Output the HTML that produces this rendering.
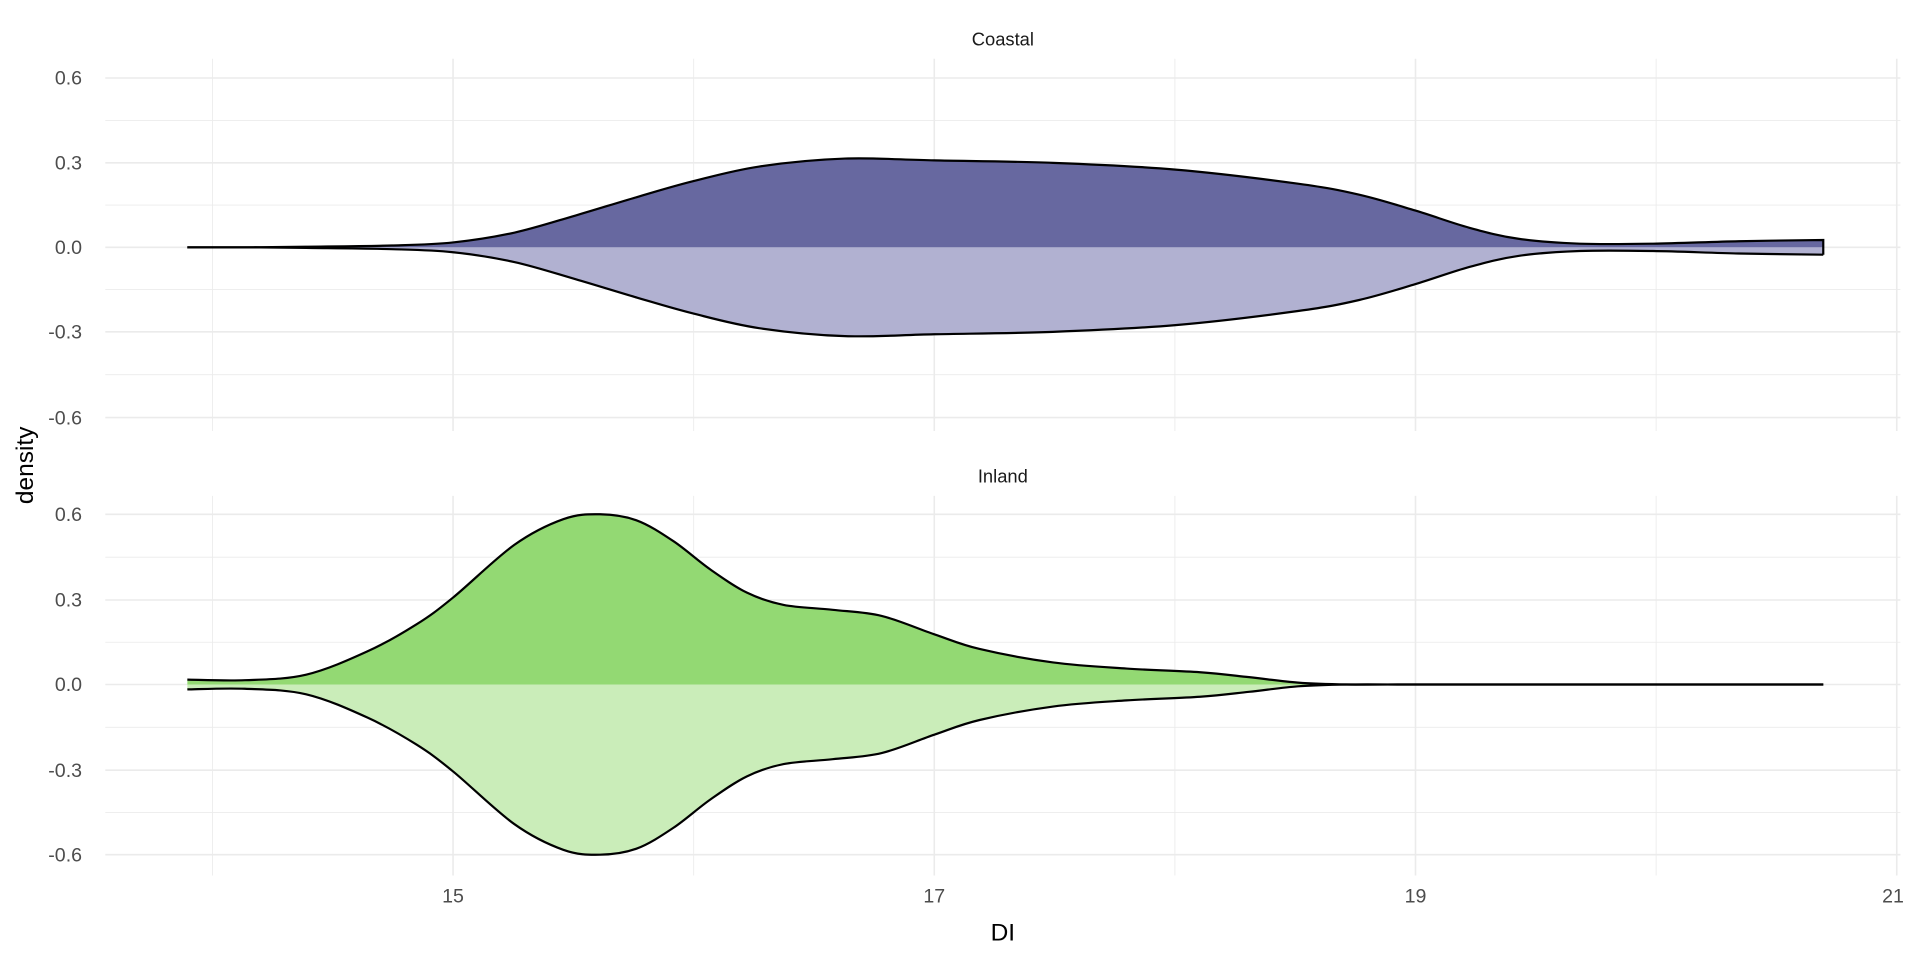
<!DOCTYPE html>
<html><head><meta charset="utf-8"><style>
html,body{margin:0;padding:0;background:#fff}
svg{display:block}
text{font-family:"Liberation Sans",Arial,sans-serif}
</style></head><body>
<svg id="s" width="1920" height="960" viewBox="0 0 1568 784" xmlns="http://www.w3.org/2000/svg">
<g id="grid"></g>
<g id="shapes"></g>
<g font-size="16" fill="#4d4d4d" text-anchor="end">
<text x="67" y="69">0.6</text><text x="67" y="138.5">0.3</text><text x="67" y="207.5">0.0</text><text x="67" y="276.5">-0.3</text><text x="67" y="346.5">-0.6</text>
<text x="67" y="425.5">0.6</text><text x="67" y="495.5">0.3</text><text x="67" y="564.5">0.0</text><text x="67" y="634.5">-0.3</text><text x="67" y="703.5">-0.6</text>
</g>
<g font-size="16" fill="#4d4d4d" text-anchor="middle">
<text x="370" y="737">15</text><text x="763" y="737">17</text><text x="1156" y="737">19</text><text x="1546" y="737">21</text>
</g>
<g font-size="15" fill="#1a1a1a" text-anchor="middle">
<text x="819" y="37">Coastal</text><text x="819" y="394">Inland</text>
</g>
<text x="819" y="768" font-size="20" text-anchor="middle" fill="#000">DI</text>
<text transform="translate(27,380) rotate(-90)" font-size="20" text-anchor="middle" fill="#000">density</text>
</svg>
<script>
var NS="http://www.w3.org/2000/svg";
function el(p,t,a){var e=document.createElementNS(NS,t);for(var k in a)e.setAttribute(k,a[k]);p.appendChild(e);return e;}
var g=document.getElementById('grid');
[[48,352,[63.7,133,202,271,341]],[405,715,[420,490,559,629,698]]].forEach(function(P){
  var t=P[0],b=P[1],ys=P[2];
  for(var i=0;i<ys.length;i++){el(g,'line',{x1:86,x2:1552,y1:ys[i],y2:ys[i],stroke:'#ebebeb','stroke-width':1.3});
    if(i<ys.length-1){var m=(ys[i]+ys[i+1])/2;el(g,'line',{x1:86,x2:1552,y1:m,y2:m,stroke:'#ebebeb','stroke-width':0.7});}}
  [370,763,1156,1549].forEach(function(x){el(g,'line',{x1:x,x2:x,y1:t,y2:b,stroke:'#ebebeb','stroke-width':1.3});});
  [173.5,566.5,959.5,1352.5].forEach(function(x){el(g,'line',{x1:x,x2:x,y1:t,y2:b,stroke:'#ebebeb','stroke-width':0.7});});
});
function cr(pts){var d='M'+pts[0][0]+','+pts[0][1];
 for(var i=0;i<pts.length-1;i++){var p0=pts[Math.max(0,i-1)],p1=pts[i],p2=pts[i+1],p3=pts[Math.min(pts.length-1,i+2)];
  d+=' C'+(p1[0]+(p2[0]-p0[0])/6)+','+(p1[1]+(p2[1]-p0[1])/6)+' '+(p2[0]-(p3[0]-p1[0])/6)+','+(p2[1]-(p3[1]-p1[1])/6)+' '+p2[0]+','+p2[1];}
 return d;}
function mirror(pts,y0){return pts.map(function(p){return [p[0],2*y0-p[1]];});}
function draw(up,y0,c1,c2){
 var s=document.getElementById('shapes');
 var lo=mirror(up,y0);
 var x0=up[0][0],x1=up[up.length-1][0];
 el(s,'path',{d:cr(up)+' L'+x1+','+y0+' L'+x0+','+y0+' Z',fill:c1});
 el(s,'path',{d:cr(lo)+' L'+x1+','+y0+' L'+x0+','+y0+' Z',fill:c2});
 el(s,'path',{d:cr(up)+' L'+x1+','+lo[lo.length-1][1],fill:'none',stroke:'#000','stroke-width':1.8});
 el(s,'path',{d:cr(lo),fill:'none',stroke:'#000','stroke-width':1.8});
}
draw([[153,202],[200,202],[250,201.5],[320,200.5],[370,198],[420,190],[470,176],[520,161],[566,148],[620,136],[690,129.5],[763,131],[860,133],[960,138.5],[1060,150],[1110,159],[1156,172],[1200,186],[1240,195],[1290,199],[1350,199],[1420,197],[1489,196]],202,'#6768a0','#b1b1d1');
draw([[153,555],[200,555.5],[250,551],[300,532],[340,510],[370,488],[420,445],[460,424],[490,420],[520,425],[550,442],[580,465],[610,484],[640,494],[680,498],[720,503],[763,518],[800,530],[860,541],[920,546],[980,549],[1020,553],[1060,557.5],[1100,559],[1150,559],[1200,559],[1300,559],[1400,559],[1489,559]],559,'#93d973','#caedb9');
</script>
</body></html>
